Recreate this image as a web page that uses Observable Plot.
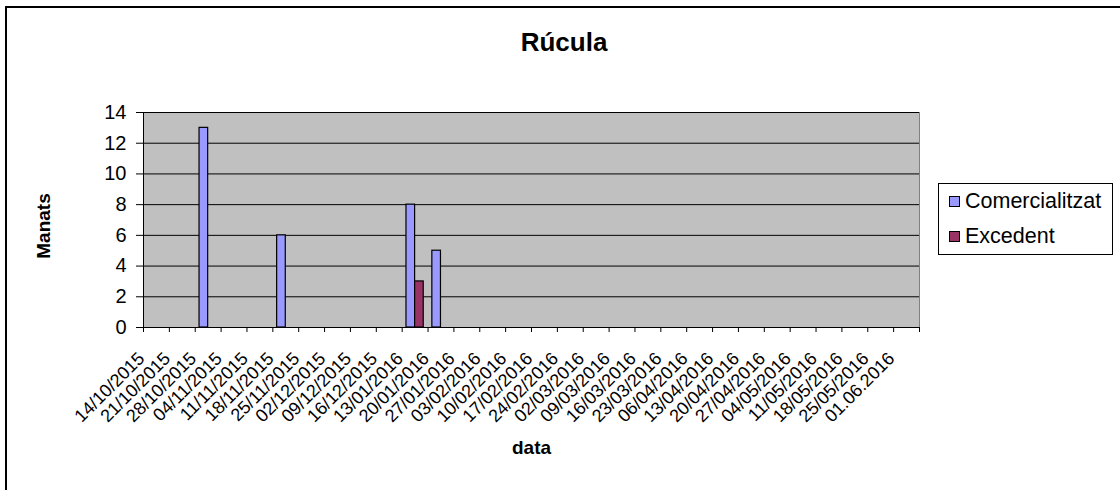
<!DOCTYPE html>
<html>
<head>
<meta charset="utf-8">
<script src="https://cdn.jsdelivr.net/npm/d3@7"></script>
<script src="https://cdn.jsdelivr.net/npm/@observablehq/plot@0.6"></script>
<style>
  html, body { margin: 0; padding: 0; background: #fff; overflow: hidden; }
  #wrap { position: relative; width: 1120px; height: 490px; font-family: "Liberation Sans", Arial, sans-serif; }
  #border { position: absolute; left: 5px; top: 6px; width: 1200px; height: 600px; border: 2px solid #000; box-sizing: border-box; }
  #title { position: absolute; left: 0; width: 1128px; top: 27px; text-align: center; font-weight: bold; font-size: 26px; line-height: 30px; }
  #legend { position: absolute; left: 938px; top: 183px; width: 175px; height: 72px; box-sizing: border-box; border: 1px solid #000; background: #fff; font-size: 21.5px; }
  .item { position: absolute; left: 10px; display: flex; align-items: center; line-height: 26px; }
  .sw { width: 9px; height: 9px; border: 1px solid #000; margin-right: 5px; }
  #chart { position: absolute; left: 0; top: 0; }
</style>
</head>
<body>
<div id="wrap">
  <div id="border"></div>
  <div id="chart"></div>
  <div id="title"></div>
  <div id="legend"></div>
</div>
<script>
const title = "Rúcula";
const dates = ["14/10/2015","21/10/2015","28/10/2015","04/11/2015","11/11/2015","18/11/2015","25/11/2015","02/12/2015","09/12/2015","16/12/2015","13/01/2016","20/01/2016","27/01/2016","03/02/2016","10/02/2016","17/02/2016","24/02/2016","02/03/2016","09/03/2016","16/03/2016","23/03/2016","06/04/2016","13/04/2016","20/04/2016","27/04/2016","04/05/2016","11/05/2016","18/05/2016","25/05/2016","01.06.2016"];
const comercialitzat = [0,0,13,0,0,6,0,0,0,0,8,5,0,0,0,0,0,0,0,0,0,0,0,0,0,0,0,0,0,0];
const excedent =       [0,0,0,0,0,0,0,0,0,0,3,0,0,0,0,0,0,0,0,0,0,0,0,0,0,0,0,0,0,0];
const seriesNames = ["Comercialitzat", "Excedent"];
const seriesColors = ["#9999FF", "#993366"];
const yTicks = [0, 2, 4, 6, 8, 10, 12, 14];
const xLabel = "data";
const yLabel = "Manats";

const W = 1120, H = 490, mL = 143, mR = 201, mT = 112, mB = 163;
const n = dates.length;
const bw = (W - mL - mR) / n; // category band width
const barW = bw / 3;           // Excel clustered, gap width 100%

const rowsC = comercialitzat.map((v, i) => ({i, v})).filter(d => d.v > 0);
const rowsE = excedent.map((v, i) => ({i, v})).filter(d => d.v > 0);
const boundaries = d3.range(n + 1);
const centers = d3.range(n).map(i => i + 0.5);

const chart = Plot.plot({
  width: W, height: H,
  marginLeft: mL, marginRight: mR, marginTop: mT, marginBottom: mB,
  style: {fontFamily: "'Liberation Sans', Arial, sans-serif", background: "transparent", color: "#000", overflow: "visible"},
  x: {domain: [0, n], axis: null},
  y: {domain: [0, 14], axis: null},
  marks: [
    Plot.frame({fill: "#c0c0c0", stroke: "#808080"}),
    Plot.gridY(yTicks, {stroke: "#000", strokeOpacity: 1}),
    Plot.axisY(yTicks, {tickSize: 7, tickPadding: 10, fontSize: 20, label: null, stroke: "#000"}),
    Plot.axisX(boundaries, {tickSize: 5, tickFormat: () => "", label: null}),
    Plot.axisX(centers, {tickSize: 0, tickPadding: 28, tickRotate: -45, fontSize: 18, dx: -15, tickFormat: v => dates[Math.floor(v)], label: null}),
    Plot.rectY(rowsC, {x1: d => d.i, x2: d => d.i + 1, y: "v", fill: seriesColors[0], stroke: "#000", strokeWidth: 1.2, insetLeft: barW / 2, insetRight: barW * 1.5}),
    Plot.rectY(rowsE, {x1: d => d.i, x2: d => d.i + 1, y: "v", fill: seriesColors[1], stroke: "#000", strokeWidth: 1.2, insetLeft: barW * 1.5, insetRight: barW / 2}),
    Plot.ruleY([0], {stroke: "#000"}),
    Plot.ruleX([0], {stroke: "#000"}),
    Plot.text([yLabel], {text: d => d, frameAnchor: "left", textAnchor: "middle", dx: -100, dy: 6, rotate: -90, fontWeight: "bold", fontSize: 19}),
    Plot.text([xLabel], {text: d => d, frameAnchor: "bottom", textAnchor: "middle", lineAnchor: "middle", dy: 120, fontWeight: "bold", fontSize: 19})
  ]
});
document.getElementById("chart").appendChild(chart);
document.getElementById("title").textContent = title;

const legend = document.getElementById("legend");
seriesNames.forEach((name, k) => {
  const it = document.createElement("div");
  it.className = "item";
  it.style.top = (k === 0 ? 4 : 39) + "px";
  const sw = document.createElement("div");
  sw.className = "sw";
  sw.style.background = seriesColors[k];
  const tx = document.createElement("span");
  tx.textContent = name;
  it.appendChild(sw); it.appendChild(tx);
  legend.appendChild(it);
});
</script>
</body>
</html>
